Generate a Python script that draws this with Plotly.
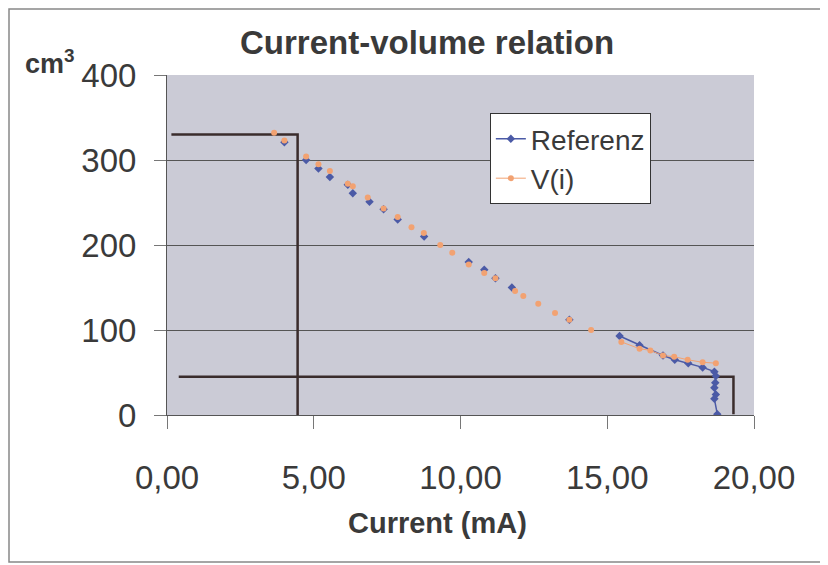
import plotly.graph_objects as go

# ---- data ----
ref_mid_x = [4.0, 4.74, 5.16, 5.55, 6.16, 6.33, 6.9, 7.38, 7.86, 8.76, 10.28, 10.81, 11.19, 11.75, 13.71]
ref_mid_y = [321, 300, 290, 280, 271, 261, 251, 242, 230, 210, 180, 171, 161, 150, 112]
ref_tail_x = [15.42, 16.1, 16.9, 17.3, 17.76, 18.25, 18.65, 18.7, 18.68, 18.65, 18.7, 18.65, 18.75]
ref_tail_y = [93, 82, 70, 65, 61, 56, 51, 46, 38, 32, 24, 19, 1]

v_mid_x = [3.65, 4.0, 4.74, 5.16, 5.55, 6.16, 6.33, 6.84, 7.38, 7.86, 8.33, 8.75, 9.31, 9.72,
           10.28, 10.81, 11.19, 11.86, 12.14, 12.65, 13.22, 13.71, 14.45]
v_mid_y = [332, 323, 304, 295, 287, 272, 269, 256, 243, 233, 221, 214, 200, 191,
           177, 167, 161, 146, 140, 131, 120, 112, 100]
v_tail_x = [15.48, 16.1, 16.47, 16.9, 17.28, 17.74, 18.25, 18.7]
v_tail_y = [86, 78, 76, 70, 68.6, 65, 62, 61]

# hand-drawn guide lines (start/end corners)
guide1_x = [0.15, 4.45, 4.45]
guide1_y = [330, 330, 0]
guide2_x = [0.4, 19.3, 19.3]
guide2_y = [45, 45, 1]

x_ticks = [0, 5, 10, 15, 20]
y_ticks = [0, 100, 200, 300, 400]

FONT = "Liberation Sans, Arial, sans-serif"
TXT = "#3a3a3a"
BLUE = "#4b5aa6"
ORANGE = "#f2a272"

# page has an 8px body margin; the figure is sized to fill the rest of the window
W, H = 820, 557
OFF = 8
L, T, R, B = 159, 67, 74, 150

fig = go.Figure()

for gx, gy in [(guide1_x, guide1_y), (guide2_x, guide2_y)]:
    fig.add_trace(go.Scatter(x=gx, y=gy, mode="lines", showlegend=False, hoverinfo="skip",
                             line=dict(color="#3a2c2c", width=2.5)))

fig.add_trace(go.Scatter(x=ref_tail_x, y=ref_tail_y, mode="lines+markers", name="Referenz",
                         legendgroup="ref",
                         line=dict(color=BLUE, width=1.5),
                         marker=dict(symbol="diamond", size=6.5, color=BLUE)))
fig.add_trace(go.Scatter(x=ref_mid_x, y=ref_mid_y, mode="markers", name="Referenz",
                         legendgroup="ref", showlegend=False,
                         marker=dict(symbol="diamond", size=6.5, color=BLUE)))
fig.add_trace(go.Scatter(x=v_tail_x, y=v_tail_y, mode="lines+markers", name="V(i)",
                         legendgroup="v",
                         line=dict(color=ORANGE, width=1),
                         marker=dict(symbol="circle", size=6, color=ORANGE)))
fig.add_trace(go.Scatter(x=v_mid_x, y=v_mid_y, mode="markers", name="V(i)",
                         legendgroup="v", showlegend=False,
                         marker=dict(symbol="circle", size=6, color=ORANGE)))

fig.update_layout(
    width=W, height=H,
    margin=dict(l=L, r=R, t=T, b=B, autoexpand=False),
    paper_bgcolor="white",
    plot_bgcolor="#cbcbd6",
    separators=", ",
    font=dict(family=FONT, color=TXT),
    title=dict(text="Current-volume relation", x=0.443, xref="paper", xanchor="center",
               y=1 - (42 - OFF) / H, yref="container", yanchor="middle",
               font=dict(family=FONT, size=33, color=TXT, weight="bold")),
    legend=dict(x=0.55, y=0.888, xanchor="left", yanchor="top",
                bgcolor="white", bordercolor="#333333", borderwidth=1,
                tracegroupgap=0,
                font=dict(family=FONT, size=28, color=TXT)),
    showlegend=True,
)

fig.update_xaxes(range=[0, 20], tickvals=x_ticks, tickformat=".2f",
                 ticks="outside", ticklen=13, tickcolor="#777777",
                 showgrid=False, zeroline=False,
                 showline=True, linecolor="#555555", linewidth=1,
                 tickfont=dict(family=FONT, size=33, color=TXT),
                 ticklabelstandoff=20)
fig.update_yaxes(range=[0, 400], tickvals=y_ticks,
                 ticks="outside", ticklen=12, tickcolor="#777777",
                 showgrid=True, gridcolor="#555555", gridwidth=1,
                 zeroline=False,
                 showline=True, linecolor="#555555", linewidth=1,
                 tickfont=dict(family=FONT, size=33, color=TXT),
                 ticklabelstandoff=11)

fig.add_annotation(text="Current (mA)", xref="paper", yref="paper", x=0.46, y=-0.318,
                   xanchor="center", yanchor="middle", showarrow=False,
                   font=dict(family=FONT, size=29, color=TXT, weight="bold"))
fig.add_annotation(text="cm<sup>3</sup>", xref="paper", yref="paper", x=-0.245, y=1.038,
                   xanchor="left", yanchor="middle", showarrow=False,
                   font=dict(family=FONT, size=27, color=TXT, weight="bold"))

# outer chart frame (page pixel coordinates converted to plot-paper fractions)
fig.add_shape(type="rect", xref="paper", yref="paper",
              x0=(9 - 167) / 587, x1=(827 - 167) / 587,
              y0=(415 - 562) / 340, y1=(415 - 9) / 340,
              line=dict(color="#888888", width=1.5), fillcolor="rgba(0,0,0,0)", layer="below")

fig.write_html("out.html")
